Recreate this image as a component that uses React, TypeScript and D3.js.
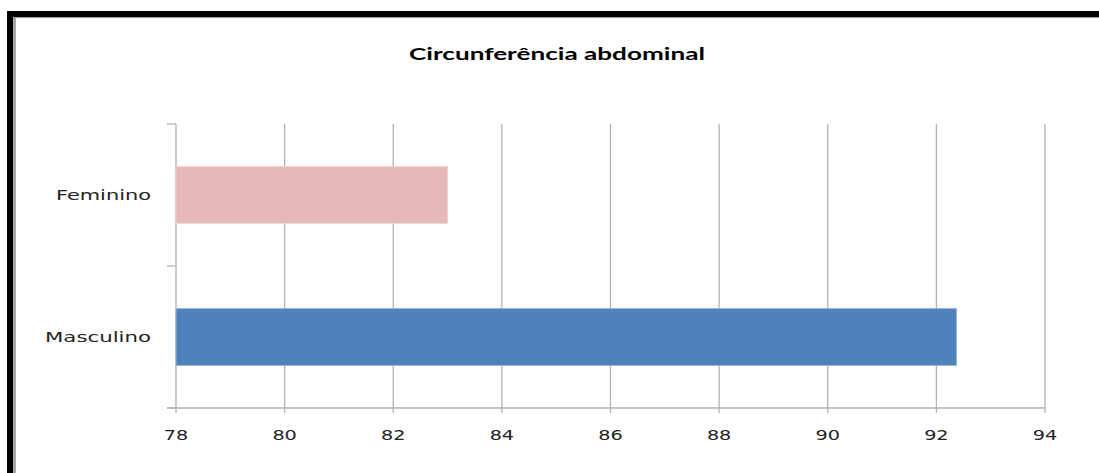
import React from "react";
import * as d3 from "d3";

const categories = ["Feminino", "Masculino"];
const values = [83.0, 92.37];
const barColors = ["#e6b9b8", "#4f81bd"];
const barStrokes = ["#f0d2d1", "#95b3d7"];
const xTicks = [78, 80, 82, 84, 86, 88, 90, 92, 94];
const title = "Circunferência abdominal";

const W = 1099;
const H = 473;

export default function App() {
  const x = d3.scaleLinear().domain([78, 94]).range([176, 1045]);
  const y = d3
    .scaleBand<string>()
    .domain(categories)
    .range([124, 408])
    .paddingInner(0.6)
    .paddingOuter(0.3);
  const step = y.step();
  const gridColor = "#b3b3b3";
  const catBoundaries = [124, 124 + step, 408];
  const labelWidths: Record<string, number> = { Feminino: 95, Masculino: 106 };

  return (
    <svg
      width={W}
      height={H}
      style={{ position: "absolute", left: 0, top: 0, background: "#fff" }}
    >
      {/* frame */}
      <rect x={0} y={0} width={W} height={H} fill="#fff" />
      <rect x={7} y={11} width={6} height={H - 11} fill="#000" />
      <rect x={7} y={11} width={W - 7} height={6} fill="#000" />
      <rect x={13} y={17} width={3} height={H - 17} fill="#a6a6a6" />
      <rect x={13} y={17} width={W - 13} height={1.2} fill="#a6a6a6" />

      {/* title */}
      <text
        x={557}
        y={60}
        textAnchor="middle"
        fontFamily="Lato, 'Open Sans', sans-serif"
        fontWeight="bold"
        fontSize={17}
        fill="#000"
        textLength={296}
        lengthAdjust="spacingAndGlyphs"
      >
        {title}
      </text>

      {/* vertical gridlines */}
      {xTicks.map((t) => (
        <line
          key={"g" + t}
          x1={x(t)}
          x2={x(t)}
          y1={124}
          y2={413}
          stroke={gridColor}
          strokeWidth={1.3}
        />
      ))}

      {/* category axis ticks */}
      {catBoundaries.map((b, i) => (
        <line
          key={"ct" + i}
          x1={167}
          x2={176}
          y1={b}
          y2={b}
          stroke={gridColor}
          strokeWidth={1.3}
        />
      ))}
      {/* x axis line */}
      <line x1={167} x2={x(94)} y1={408} y2={408} stroke={gridColor} strokeWidth={1.3} />

      {/* bars */}
      {categories.map((c, i) => (
        <rect
          key={c}
          x={x(78)}
          y={y(c)!}
          width={x(values[i]) - x(78)}
          height={y.bandwidth()}
          fill={barColors[i]}
          stroke={barStrokes[i]}
          strokeWidth={1}
        />
      ))}

      {/* category labels */}
      {categories.map((c) => (
        <text
          key={"l" + c}
          x={151}
          y={y(c)! + y.bandwidth() / 2 + 5}
          textAnchor="end"
          fontFamily="'DejaVu Sans', Verdana, sans-serif"
          fontSize={14}
          fill="#222"
          textLength={labelWidths[c]}
          lengthAdjust="spacingAndGlyphs"
        >
          {c}
        </text>
      ))}

      {/* x tick labels */}
      {xTicks.map((t) => (
        <text
          key={"t" + t}
          x={x(t)}
          y={440}
          textAnchor="middle"
          fontFamily="'DejaVu Sans', Verdana, sans-serif"
          fontSize={14}
          fill="#222"
          textLength={24.5}
          lengthAdjust="spacingAndGlyphs"
        >
          {t}
        </text>
      ))}
    </svg>
  );
}
